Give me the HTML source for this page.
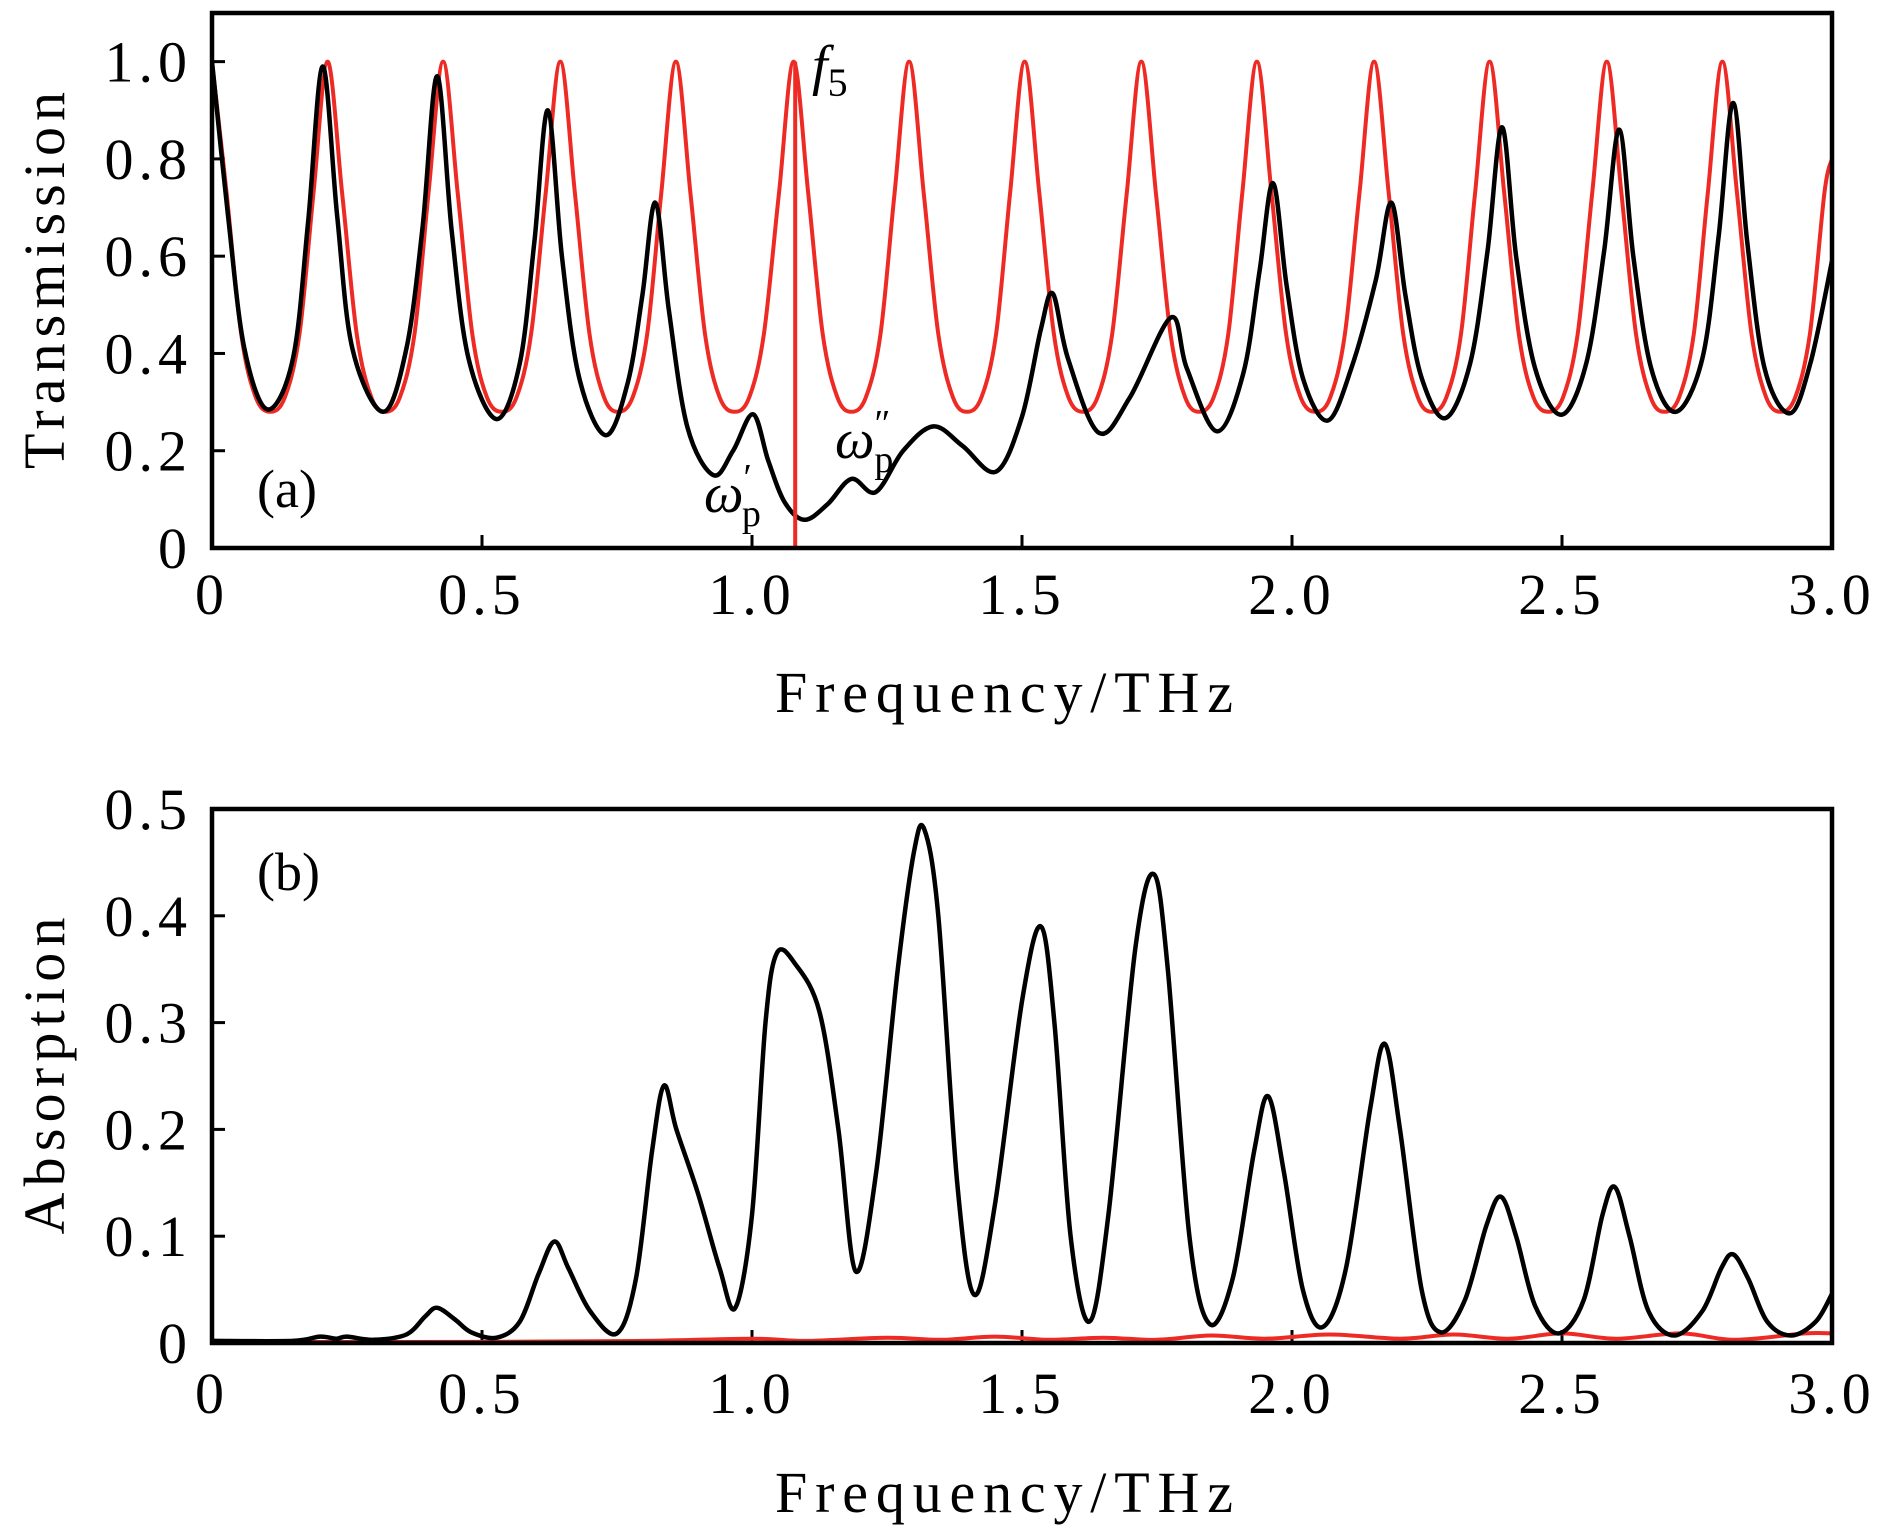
<!DOCTYPE html>
<html><head><meta charset="utf-8">
<style>
html,body{margin:0;padding:0;background:#fff;}
svg{display:block;}
text{font-family:"Liberation Serif","DejaVu Serif",serif;fill:#000;}
</style></head>
<body>
<svg id="fig" width="1890" height="1536" viewBox="0 0 1890 1536" xmlns="http://www.w3.org/2000/svg">
<g id="panelA"></g>
<g id="panelB"></g>
</svg>
<script>
// ---------- data ----------
const xTicks = [0, 0.5, 1.0, 1.5, 2.0, 2.5, 3.0];
const xTickLabels = ["0", "0.5", "1.0", "1.5", "2.0", "2.5", "3.0"];
const yTicksA = [0, 0.2, 0.4, 0.6, 0.8, 1.0];
const yTickLabelsA = ["0", "0.2", "0.4", "0.6", "0.8", "1.0"];
const yTicksB = [0, 0.1, 0.2, 0.3, 0.4, 0.5];
const yTickLabelsB = ["0", "0.1", "0.2", "0.3", "0.4", "0.5"];

const redAX = [0,.027,.054,.081,.108,.135,.162,.188,
 .214,.241,.268,.295,.321,.348,.375,.401,
 .428,.455,.482,.509,.537,.564,.591,.618,
 .645,.672,.699,.726,.752,.779,.806,.832,
 .859,.886,.913,.940,.968,.995,1.022,1.050,
 1.077,1.104,1.131,1.158,1.184,1.211,1.238,1.264,
 1.291,1.318,1.345,1.372,1.398,1.425,1.452,1.478,
 1.505,1.532,1.559,1.586,1.613,1.640,1.667,1.694,
 1.721,1.748,1.775,1.802,1.828,1.855,1.882,1.908,
 1.935,1.962,1.989,2.016,2.044,2.071,2.098,2.125,
 2.152,2.179,2.206,2.233,2.259,2.286,2.313,2.339,
 2.366,2.393,2.420,2.447,2.475,2.502,2.529,2.556,
 2.583,2.610,2.637,2.664,2.690,2.717,2.744,2.770,
 2.797,2.824,2.851,2.878,2.905,2.932,2.959,2.986,3.0];
const redAY = [1,.73,.44,.31,.28,.31,.44,.73,
 1,.73,.44,.31,.28,.31,.44,.73,
 1,.73,.44,.31,.28,.31,.44,.73,
 1,.73,.44,.31,.28,.31,.44,.73,
 1,.73,.44,.31,.28,.31,.44,.73,
 1,.73,.44,.31,.28,.31,.44,.73,
 1,.73,.44,.31,.28,.31,.44,.73,
 1,.73,.44,.31,.28,.31,.44,.73,
 1,.73,.44,.31,.28,.31,.44,.73,
 1,.73,.44,.31,.28,.31,.44,.73,
 1,.73,.44,.31,.28,.31,.44,.73,
 1,.73,.44,.31,.28,.31,.44,.73,
 1,.73,.44,.31,.28,.31,.44,.73,
 1,.73,.44,.31,.28,.31,.44,.73,.80];

const blackAX = [0,.03,.06,.103,.15,.178,.205,.232,.26,.317,.36,.39,.417,.444,.475,.527,.57,.597,.622,.648,.68,.729,.77,.797,.821,.846,.88,.928,.965,1.002,1.03,1.06,1.097,1.14,1.184,1.229,1.28,1.336,1.39,1.452,1.5,1.535,1.557,1.585,1.642,1.7,1.776,1.805,1.861,1.91,1.94,1.965,1.99,2.02,2.066,2.11,2.155,2.184,2.21,2.24,2.284,2.33,2.362,2.389,2.415,2.45,2.499,2.545,2.578,2.606,2.632,2.665,2.711,2.76,2.79,2.817,2.843,2.875,2.922,2.96,3.0];
const blackAY = [1.0,.68,.41,.285,.39,.67,.99,.68,.41,.28,.41,.66,.97,.65,.39,.265,.38,.63,.9,.6,.35,.232,.34,.52,.71,.49,.25,.15,.2,.275,.18,.095,.058,.09,.142,.115,.2,.25,.21,.157,.27,.45,.523,.39,.237,.31,.474,.37,.24,.36,.57,.75,.54,.35,.262,.37,.55,.71,.52,.35,.267,.38,.61,.865,.6,.37,.274,.38,.61,.86,.6,.37,.28,.39,.64,.915,.63,.37,.277,.38,.59];

const blackBX = [0,.15,.2,.23,.25,.3,.36,.395,.417,.45,.48,.527,.57,.605,.634,.66,.7,.75,.785,.815,.837,.86,.9,.94,.969,1.0,1.025,1.046,1.08,1.125,1.16,1.192,1.23,1.27,1.3,1.319,1.345,1.38,1.412,1.45,1.5,1.535,1.56,1.59,1.625,1.66,1.71,1.744,1.77,1.81,1.847,1.89,1.93,1.956,1.985,2.02,2.057,2.1,2.145,2.172,2.2,2.24,2.275,2.32,2.36,2.387,2.415,2.45,2.494,2.54,2.575,2.598,2.625,2.66,2.708,2.76,2.795,2.817,2.845,2.88,2.924,2.97,3.0];
const blackBY = [.002,.002,.006,.004,.006,.003,.008,.025,.033,.022,.01,.005,.02,.065,.095,.07,.03,.009,.06,.18,.241,.2,.14,.07,.033,.12,.3,.365,.355,.31,.2,.067,.16,.35,.46,.481,.4,.15,.045,.13,.32,.39,.3,.1,.02,.12,.37,.439,.35,.1,.018,.06,.18,.231,.16,.05,.015,.07,.22,.28,.2,.05,.01,.04,.11,.137,.1,.035,.009,.04,.12,.146,.1,.03,.007,.03,.07,.083,.06,.02,.007,.02,.046];

const redBX = [0,.5,.8,1.0,1.1,1.25,1.35,1.45,1.55,1.65,1.75,1.85,1.95,2.07,2.2,2.3,2.4,2.5,2.6,2.72,2.82,2.95,3.0];
const redBY = [.001,.001,.002,.004,.002,.005,.003,.006,.003,.005,.003,.007,.004,.008,.004,.008,.004,.009,.004,.009,.003,.009,.009];

const f5Freq = 1.08;
const f5Top = 1.0;

// ---------- layout ----------
const NS = "http://www.w3.org/2000/svg";
const L = 212, R = 1832;
const A = {top: 13, bottom: 548, ymax: 1.1};
const B = {top: 809, bottom: 1343, ymax: 0.5};
function xS(v){ return L + (v/3.0)*(R-L); }
function yS(p, v){ return p.bottom - (v/p.ymax)*(p.bottom-p.top); }

function mk(parent, tag, attrs){
  const el = document.createElementNS(NS, tag);
  for (const k in attrs) el.setAttribute(k, attrs[k]);
  parent.appendChild(el);
  return el;
}
function pathFrom(xs, ys, p){
  const pts = xs.map((x,i)=>[xS(x), yS(p, ys[i])]);
  let d = "M" + pts[0][0].toFixed(1) + "," + pts[0][1].toFixed(1);
  for (let i=0;i<pts.length-1;i++){
    const p0 = pts[Math.max(0,i-1)], p1 = pts[i], p2 = pts[i+1], p3 = pts[Math.min(pts.length-1,i+2)];
    const c1x = p1[0] + (p2[0]-p0[0])/6, c1y = p1[1] + (p2[1]-p0[1])/6;
    const c2x = p2[0] - (p3[0]-p1[0])/6, c2y = p2[1] - (p3[1]-p1[1])/6;
    d += " C" + c1x.toFixed(1)+","+c1y.toFixed(1)+" "+c2x.toFixed(1)+","+c2y.toFixed(1)+" "+p2[0].toFixed(1)+","+p2[1].toFixed(1);
  }
  return d;
}

function drawPanel(g, p, yTicks, yLabels, yTitle, yTitleLen, xlabBaseline, xTitleY){
  const clipId = "clip" + p.top;
  const defs = mk(g, "defs", {});
  const cp = mk(defs, "clipPath", {id: clipId});
  mk(cp, "rect", {x: L, y: p.top, width: R-L, height: p.bottom-p.top});
  xTicks.forEach((v,i)=>{
    const t = mk(g, "line", {x1: xS(v), x2: xS(v), y1: p.bottom, y2: p.bottom-13, stroke:"#000", "stroke-width":3});
    
    
    const tx = mk(g, "text", {x: xS(v), y: xlabBaseline, "text-anchor":"middle", "font-size":58, "letter-spacing":5});
    tx.textContent = xTickLabels[i];
    
    
  });
  yTicks.forEach((v,i)=>{
    const t = mk(g, "line", {x1: L, x2: L+13, y1: yS(p,v), y2: yS(p,v), stroke:"#000", "stroke-width":3});
    
    
    const tx = mk(g, "text", {x: 192, y: yS(p,v)+20, "text-anchor":"end", "font-size":58, "letter-spacing":5});
    tx.textContent = yLabels[i];
    
    
  });
  const yt = mk(g, "text", {x: 0, y: 0, "text-anchor":"middle", "font-size":58, textLength: yTitleLen, lengthAdjust:"spacing",
    transform: "translate(64," + ((p.top+p.bottom)/2) + ") rotate(-90)"});
  yt.textContent = yTitle;
  
  
  const xt = mk(g, "text", {x: 1004, y: xTitleY, "text-anchor":"middle", "font-size":58, textLength: 458, lengthAdjust:"spacing"});
  xt.textContent = "Frequency/THz";
  
  
  return clipId;
}

// ---------- panel A ----------
const gA = document.getElementById("panelA");
const clipA = drawPanel(gA, A, yTicksA, yTickLabelsA, "Transmission", 377, 614, 712);
const redA = mk(gA, "path", {d: pathFrom(redAX, redAY, A), fill:"none", stroke:"#ee2a24", "stroke-width":4, "clip-path":"url(#"+clipA+")"});


const blkA = mk(gA, "path", {d: pathFrom(blackAX, blackAY, A), fill:"none", stroke:"#000", "stroke-width":4.5, "clip-path":"url(#"+clipA+")"});


const f5 = mk(gA, "line", {x1: xS(f5Freq), x2: xS(f5Freq), y1: yS(A,0), y2: yS(A,f5Top), stroke:"#ee2a24", "stroke-width":4});


const frA = mk(gA, "rect", {x: L, y: A.top, width: R-L, height: A.bottom-A.top, fill:"none", stroke:"#000", "stroke-width":4.5});



// ---------- panel B ----------
const gB = document.getElementById("panelB");
const clipB = drawPanel(gB, B, yTicksB, yTickLabelsB, "Absorption", 317, 1413, 1512);
const redB = mk(gB, "path", {d: pathFrom(redBX, redBY, B), fill:"none", stroke:"#ee2a24", "stroke-width":4, "clip-path":"url(#"+clipB+")"});


const blkB = mk(gB, "path", {d: pathFrom(blackBX, blackBY, B), fill:"none", stroke:"#000", "stroke-width":4.5, "clip-path":"url(#"+clipB+")"});


const frB = mk(gB, "rect", {x: L, y: B.top, width: R-L, height: B.bottom-B.top, fill:"none", stroke:"#000", "stroke-width":4.5});


</script>
<svg width="1890" height="1536" style="position:absolute;left:0;top:0" xmlns="http://www.w3.org/2000/svg">
  <text x="257" y="507" font-size="54" style="font-family:'Liberation Serif',serif">(a)</text>
  <text x="257" y="890" font-size="54" style="font-family:'Liberation Serif',serif">(b)</text>
  <text x="812" y="84" font-size="56" font-style="italic" style="font-family:'Liberation Serif',serif">f<tspan font-size="40" font-style="normal" dy="12">5</tspan></text>
  <text x="704" y="512" font-size="56" font-style="italic" style="font-family:'Liberation Serif',serif">ω<tspan font-size="38" font-style="normal" dy="-22">′</tspan><tspan font-size="38" font-style="normal" dx="-10" dy="36">p</tspan></text>
  <text x="835" y="458" font-size="56" font-style="italic" style="font-family:'Liberation Serif',serif">ω<tspan font-size="38" font-style="normal" dy="-22">″</tspan><tspan font-size="38" font-style="normal" dx="-16" dy="36">p</tspan></text>
</svg>
</body></html>
